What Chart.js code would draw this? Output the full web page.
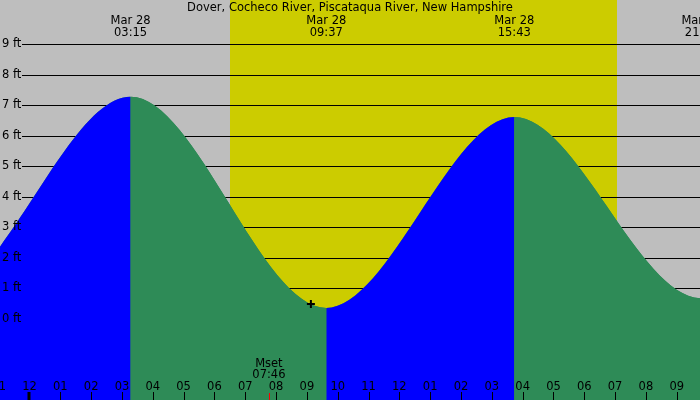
<!DOCTYPE html>
<html>
<head>
<meta charset="utf-8">
<script src="https://cdn.jsdelivr.net/npm/chart.js@4.4.1/dist/chart.umd.min.js"></script>
<style>
  html, body { margin: 0; padding: 0; background: #bebebe; }
</style>
</head>
<body>
<canvas id="tideChart" width="700" height="400"></canvas>
<script>
const stationName = "Dover, Cocheco River, Piscataqua River, New Hampshire";

// hours counted from midnight, Mar 28
const tideHours = [-9.0, -2.87, 3.28, 9.63, 15.73, 21.8, 28.0];
const tideHeights = [6.9, 0.9, 7.27, 0.36, 6.61, 0.68, 7.0];
const tideDates = ["Mar 27", "Mar 27", "Mar 28", "Mar 28", "Mar 28", "Mar 28", "Mar 29"];
const tideTimes = ["15:00", "21:08", "03:15", "09:37", "15:43", "21:48", "04:00"];

const sunHours = [6.5, 19.07];           // sunrise, sunset
const moonHours = [7.767];
const moonNames = ["Mset"];
const moonTimes = ["07:46"];

const markHours = [9.13];
const markHeights = [0.49];

const heightTicks = [0, 1, 2, 3, 4, 5, 6, 7, 8, 9];

const xMin = -0.957, xMax = 21.755;
const yMin = -2.65, yMax = 10.44;

const GRAY = "#bebebe";
const DAY = "#cccc00";
const RISING = "#0000ff";
const FALLING = "#2e8b57";
const FONT = "11.5px 'DejaVu Sans'";

function pad2(n) {
    return (n < 10 ? "0" : "") + n;
}

const tidePoints = tideHours.map((h, i) => ({ x: h, y: tideHeights[i] }));

const tideDecor = {
    id: "tideDecor",
    beforeDraw(chart) {
        const { ctx, width, height } = chart;
        const xs = chart.scales.x;
        ctx.save();
        ctx.fillStyle = GRAY;
        ctx.fillRect(0, 0, width, height);
        const x0 = xs.getPixelForValue(sunHours[0]);
        const x1 = xs.getPixelForValue(sunHours[1]);
        ctx.fillStyle = DAY;
        ctx.fillRect(Math.round(x0), 0, Math.round(x1) - Math.round(x0), height);
        ctx.restore();
    },
    beforeDatasetsDraw(chart) {
        const { ctx, chartArea } = chart;
        const ys = chart.scales.y;
        ctx.save();
        ctx.strokeStyle = "#000";
        ctx.lineWidth = 1;
        ys.ticks.forEach(t => {
            const y = Math.round(ys.getPixelForValue(t.value)) + 0.5;
            ctx.beginPath();
            ctx.moveTo(22, y);
            ctx.lineTo(chartArea.right, y);
            ctx.stroke();
        });
        ctx.restore();
    },
    afterDatasetsDraw(chart) {
        const { ctx, width, height } = chart;
        const xs = chart.scales.x;
        ctx.save();
        ctx.font = FONT;
        ctx.fillStyle = "#000";
        ctx.textAlign = "center";
        ctx.textBaseline = "alphabetic";

        // hour ticks along the bottom (labels just off the edges still peek in)
        for (let h = Math.floor(xMin); h <= Math.ceil(xMax); h++) {
            const px = xs.getPixelForValue(h);
            const hr = ((h % 12) + 12) % 12 || 12;
            ctx.fillText(pad2(hr), px, 389.5);
            if (((h % 24) + 24) % 24 === 0) {
                ctx.fillRect(Math.round(px) - 1.5, 392, 3, height - 392);
            } else {
                ctx.fillRect(Math.round(px), 392, 1, height - 392);
            }
        }

        // moon events
        moonHours.forEach((h, i) => {
            const px = xs.getPixelForValue(h);
            ctx.fillStyle = "#ff0000";
            ctx.fillRect(Math.round(px), 393, 1, height - 393);
            ctx.fillStyle = "#000";
            ctx.fillText(moonNames[i], px, 366.5);
            ctx.fillText(moonTimes[i], px, 377.5);
        });

        // high / low labels
        tideHours.forEach((h, i) => {
            const px = xs.getPixelForValue(h);
            ctx.fillText(tideDates[i], px, 24);
            ctx.fillText(tideTimes[i], px, 36);
        });

        ctx.fillText(stationName, width / 2, 11);
        ctx.restore();
    }
};

const ctx = document.getElementById("tideChart").getContext("2d");
new Chart(ctx, {
    type: "line",
    data: {
        datasets: [{
            // rising (blue) / falling (green) tide
            data: tidePoints,
            order: 1,
            fill: "start",
            cubicInterpolationMode: "monotone",
            pointRadius: 0,
            borderWidth: 0,
            borderColor: FALLING,
            backgroundColor: FALLING,
            segment: {
                backgroundColor: c => c.p1.parsed.y > c.p0.parsed.y ? RISING : FALLING,
                borderColor: c => c.p1.parsed.y > c.p0.parsed.y ? RISING : FALLING
            }
        }, {
            // plain green underlay so the segment joins show no seam
            data: tidePoints,
            order: 2,
            fill: "start",
            cubicInterpolationMode: "monotone",
            pointRadius: 0,
            borderWidth: 0,
            borderColor: FALLING,
            backgroundColor: FALLING
        }, {
            type: "scatter",
            data: markHours.map((h, i) => ({ x: h, y: markHeights[i] })),
            order: 0,
            pointStyle: "cross",
            pointRadius: 4,
            borderColor: "#000",
            borderWidth: 2,
            showLine: false
        }]
    },
    options: {
        responsive: false,
        animation: false,
        layout: { padding: 0, autoPadding: false },
        plugins: {
            legend: { display: false },
            tooltip: { enabled: false }
        },
        scales: {
            x: {
                type: "linear",
                min: xMin,
                max: xMax,
                display: false
            },
            y: {
                type: "linear",
                min: yMin,
                max: yMax,
                position: "left",
                grid: { display: false, drawTicks: false },
                border: { display: false },
                ticks: {
                    z: 1,
                    mirror: true,
                    padding: 2,
                    color: "#000",
                    font: { family: "DejaVu Sans", size: 11.5 },
                    callback: v => v + " ft"
                },
                afterBuildTicks: s => { s.ticks = heightTicks.map(v => ({ value: v })); },
                afterFit: s => {
                    s.width = 0;
                    s.paddingTop = 0;
                    s.paddingBottom = 0;
                }
            }
        }
    },
    plugins: [tideDecor]
});
</script>
</body>
</html>
